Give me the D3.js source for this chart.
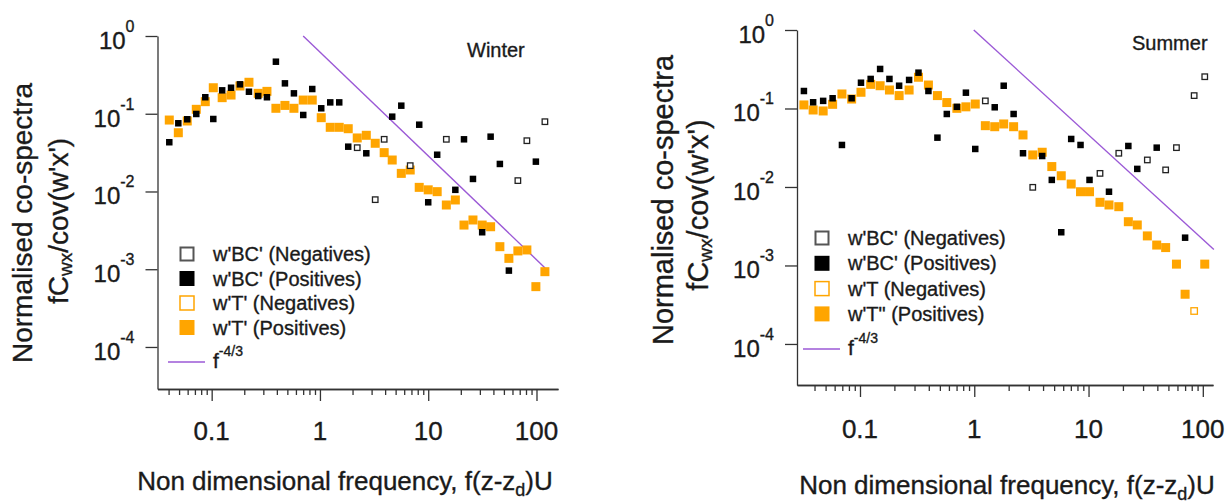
<!DOCTYPE html>
<html>
<head>
<meta charset="utf-8">
<script src="https://cdn.jsdelivr.net/npm/d3@7"></script>
<style>
  html, body { margin: 0; padding: 0; background: #fff; }
  svg { display: block; font-family: "Liberation Sans", Arial, sans-serif; }
  svg text { stroke: #1a1a1a; stroke-width: 0.35px; }
</style>
</head>
<body>
<div id="chart"></div>
<script>
// ---- data ----
const winterFreq = [0.0406, 0.0492, 0.0595, 0.0721, 0.0873, 0.1035, 0.125, 0.151, 0.1825, 0.221,
  0.269, 0.324, 0.392, 0.475, 0.575, 0.701, 0.849, 1.028, 1.245, 1.507,
  1.825, 2.21, 2.68, 3.24, 3.92, 4.65, 5.64, 6.82, 8.26, 10.0,
  12.1, 14.7, 17.8, 21.4, 25.9, 31.5, 37.7, 45.9, 55.6, 67.3,
  81.5, 98.7, 119.6];
const winterTPos = [0.083, 0.057, 0.0807, 0.114, 0.143, 0.216, 0.161, 0.174, 0.2275, 0.254,
  0.183, 0.194, 0.1175, 0.128, 0.1175, 0.150, 0.150, 0.089, 0.0669, 0.0669,
  0.0642, 0.0488, 0.0528, 0.0417, 0.0316, 0.0254, 0.0171, 0.0189, 0.0113, 0.0105,
  0.00995, 0.0067, 0.00778, 0.0037, 0.0043, 0.0037, 0.00352, 0.00195, 0.00138, 0.00172,
  0.00177, 0.000597, 0.00093];
const winterTNeg = [];
const winterBCPos = [0.043, 0.0754, 0.0849, 0.0993, 0.163, 0.0856, 0.200, 0.216, 0.239, 0.192,
  0.169, 0.163, 0.467, 0.246, 0.183, 0.0964, 0.208, 0.1175, 0.140, 0.140,
  0.0377, null, 0.031, null, null, 0.0917, 0.127, null, 0.0723, 0.00726,
  0.0297, null, 0.0105, 0.0469, 0.0145, 0.00299, 0.0507, 0.0226, 0.00096, null,
  null, 0.0242, null];
const winterBCNeg = [null, null, null, null, null, null, null, null, null, null,
  null, null, null, null, null, null, null, null, null, null,
  null, 0.0366, null, 0.00785, 0.0469, null, null, 0.0215, null, null,
  null, 0.0469, null, null, null, null, null, null, null, 0.0138,
  0.045, null, 0.079];
const winterLineF = [0.7, 120];
const winterLineV = [1, 0.00104];

const summerFreq = [0.0323, 0.0389, 0.0476, 0.0576, 0.0695, 0.0845, 0.102, 0.124, 0.150, 0.181,
  0.220, 0.269, 0.325, 0.397, 0.476, 0.575, 0.704, 0.845, 1.02, 1.25,
  1.51, 1.81, 2.21, 2.67, 3.25, 3.93, 4.77, 5.77, 7.05, 8.51,
  10.2, 12.6, 15.1, 18.4, 22.3, 26.7, 32.7, 39.5, 47.3, 58.8,
  70.0, 84, 104];
const summerTPos = [0.111, 0.0957, 0.093, 0.113, 0.153, 0.132, 0.161, 0.203, 0.195, 0.172,
  0.146, 0.172, 0.25, 0.199, 0.146, 0.119, 0.1005, 0.105, 0.114, 0.0604,
  0.0586, 0.0635, 0.0586, 0.046, 0.0256, 0.0277, 0.0182, 0.0139, 0.0109, 0.0087,
  0.0087, 0.00638, 0.0059, 0.00561, 0.00361, 0.00328, 0.00238, 0.00182, 0.00169, 0.00104,
  0.00043, null, 0.00104];
const summerTNeg = [null, null, null, null, null, null, null, null, null, null,
  null, null, null, null, null, null, null, null, null, null,
  null, null, null, null, null, null, null, null, null, null,
  null, null, null, null, null, null, null, null, null, null,
  null, 0.000263, null];
const summerBCPos = [0.167, 0.12, 0.125, 0.135, 0.0343, 0.135, 0.213, 0.238, 0.319, 0.238,
  0.195, 0.231, 0.286, 0.167, 0.0425, 0.0851, 0.105, 0.159, 0.0305, null,
  0.1036, 0.195, 0.0851, 0.0269, null, 0.0248, 0.0123, 0.00265, 0.0409, 0.0343,
  0.0123, null, 0.0087, null, 0.0333, 0.0170, null, 0.0317, null, null,
  0.00226, null, null];
const summerBCNeg = [null, null, null, null, null, null, null, null, null, null,
  null, null, null, null, null, null, null, null, null, 0.125,
  null, null, null, null, 0.0099, null, null, null, null, null,
  null, 0.0149, null, 0.0269, null, null, 0.0221, null, 0.0165, 0.0317,
  null, 0.146, 0.254];
const summerLineF = [0.99, 125];
const summerLineV = [1, 0.0016];

const xMajorTicks = [0.1, 1, 10, 100];
const xTickLabels = ["0.1", "1", "10", "100"];
const yMajorTicks = [1, 0.1, 0.01, 0.001, 0.0001];

const winterLegend = ["w'BC' (Negatives)", "w'BC' (Positives)", "w'T' (Negatives)", "w'T' (Positives)"];
const summerLegend = ["w'BC' (Negatives)", "w'BC' (Positives)", "w'T (Negatives)", "w'T\" (Positives)"];

const ORANGE = "#ffa500";
const PURPLE = "#9b59d6";
const AXIS = "#333";
const INK = "#1a1a1a";

const W = 1226, H = 503;
const svg = d3.select("#chart").append("svg")
  .attr("width", W)
  .attr("height", H);
svg.append("rect").attr("width", W).attr("height", H).attr("fill", "#fff");

function toPoints (freq, vals) {
  const pts = [];
  vals.forEach((v, i) => { if (v != null) pts.push({ f: freq[i], v: v }); });
  return pts;
}

function drawPanel (p) {
  const x = d3.scaleLog().domain(p.xDomain).range(p.xRange);
  const y = d3.scaleLog().domain(p.yDomain).range(p.yRange);
  const g = svg.append("g");
  const axisX = p.xRange[0], axisY = p.yRange[0];

  // y axis
  const ya = g.append("g")
    .attr("transform", `translate(${axisX},0)`)
    .call(d3.axisLeft(y).tickValues(yMajorTicks).tickSize(12).tickSizeOuter(0).tickFormat(""));
  ya.selectAll("path, line").attr("stroke", AXIS).attr("stroke-width", 1.3);

  yMajorTicks.forEach((t) => {
    const txt = g.append("text")
      .attr("x", axisX - 23)
      .attr("y", y(t) + 13)
      .attr("text-anchor", "end")
      .attr("fill", INK);
    txt.append("tspan").attr("font-size", 24).text("10");
    txt.append("tspan").attr("font-size", 16).attr("dy", -17).text(String(Math.round(Math.log10(t))));
  });

  // x axis: minor then major
  const minor = [];
  for (let e = -2; e <= 2; e++) {
    for (let m = 2; m <= 9; m++) {
      const v = m * Math.pow(10, e);
      if (v >= 0.04 && v <= p.xDomain[1]) minor.push(v);
    }
  }
  const xm = g.append("g")
    .attr("transform", `translate(0,${axisY})`)
    .call(d3.axisBottom(x).tickValues(minor).tickSize(6).tickSizeOuter(0).tickFormat(""));
  const xa = g.append("g")
    .attr("transform", `translate(0,${axisY})`)
    .call(d3.axisBottom(x).tickValues(xMajorTicks).tickSize(12).tickSizeOuter(0).tickFormat(""));
  xm.selectAll("path, line").attr("stroke", AXIS).attr("stroke-width", 1.3);
  xa.selectAll("path, line").attr("stroke", AXIS).attr("stroke-width", 1.3);

  g.selectAll(".xlab").data(xMajorTicks).join("text")
    .attr("x", (d) => x(d))
    .attr("y", p.xLabY)
    .attr("text-anchor", "middle")
    .attr("font-size", 26)
    .attr("fill", INK)
    .text((d, i) => xTickLabels[i]);

  // axis titles
  const xt = g.append("text")
    .attr("x", p.xTitle[0]).attr("y", p.xTitle[1])
    .attr("text-anchor", "middle").attr("font-size", 26).attr("fill", INK);
  xt.append("tspan").text("Non dimensional frequency, f(z-z");
  xt.append("tspan").attr("font-size", 18).attr("dy", 6).text("d");
  xt.append("tspan").attr("dy", -6).text(")U");

  g.append("text")
    .attr("transform", `translate(${p.yTitle1[0]},${p.yTitle1[1]}) rotate(-90)`)
    .attr("text-anchor", "middle").attr("dominant-baseline", "central")
    .attr("font-size", p.yTitleSize).attr("fill", INK)
    .text("Normalised co-spectra");
  const yt2 = g.append("text")
    .attr("transform", `translate(${p.yTitle2[0]},${p.yTitle2[1]}) rotate(-90)`)
    .attr("text-anchor", "middle").attr("dominant-baseline", "central")
    .attr("font-size", p.yTitleSize).attr("fill", INK);
  yt2.append("tspan").text("fC");
  yt2.append("tspan").attr("font-size", 19).attr("dy", 7).text("wx");
  yt2.append("tspan").attr("dy", -7).text("/cov(w'x')");

  // panel label
  g.append("text")
    .attr("x", p.label[0]).attr("y", p.label[1])
    .attr("font-size", 20).attr("fill", INK)
    .text(p.name);

  // f^-4/3 line
  const line = d3.line().x((d) => x(d.f)).y((d) => y(d.v));
  g.append("path")
    .attr("d", line(toPoints(p.lineF, p.lineV)))
    .attr("fill", "none")
    .attr("stroke", PURPLE)
    .attr("stroke-width", 1.4);

  // markers
  const sq = (sel, size) => sel
    .attr("x", (d) => x(d.f) - size / 2)
    .attr("y", (d) => y(d.v) - size / 2)
    .attr("width", size).attr("height", size);

  g.append("g").selectAll("rect").data(toPoints(p.freq, p.tPos)).join("rect")
    .call(sq, 9).attr("fill", ORANGE);
  g.append("g").selectAll("rect").data(toPoints(p.freq, p.tNeg)).join("rect")
    .call(sq, 6.5).attr("fill", "#fff").attr("stroke", ORANGE).attr("stroke-width", 1.3);
  g.append("g").selectAll("rect").data(toPoints(p.freq, p.bcPos)).join("rect")
    .call(sq, 6.5).attr("fill", "#000");
  g.append("g").selectAll("rect").data(toPoints(p.freq, p.bcNeg)).join("rect")
    .call(sq, 5.5).attr("fill", "#fff").attr("stroke", "#222").attr("stroke-width", 1.3);

  // legend
  const lg = g.append("g");
  const styles = [
    { fill: "#fff", stroke: "#555", sw: 2, size: 13 },
    { fill: "#000", stroke: "none", sw: 0, size: 15 },
    { fill: "#fff", stroke: ORANGE, sw: 1.5, size: 14 },
    { fill: ORANGE, stroke: "none", sw: 0, size: 15 }
  ];
  p.legend.forEach((lab, i) => {
    const cy = p.legY[0] + i * p.legStep;
    const s = styles[i];
    lg.append("rect")
      .attr("x", p.legX - s.size / 2).attr("y", cy - s.size / 2)
      .attr("width", s.size).attr("height", s.size)
      .attr("fill", s.fill).attr("stroke", s.stroke).attr("stroke-width", s.sw);
    lg.append("text")
      .attr("x", p.legX + 26).attr("y", cy + 7)
      .attr("font-size", 20).attr("fill", INK)
      .text(lab);
  });
  lg.append("line")
    .attr("x1", p.legX - 19).attr("x2", p.legX + 18)
    .attr("y1", p.legY[1]).attr("y2", p.legY[1])
    .attr("stroke", PURPLE).attr("stroke-width", 1.4);
  const ft = lg.append("text")
    .attr("x", p.legX + 26).attr("y", p.legY[1] + 6)
    .attr("font-size", 21).attr("fill", INK);
  ft.append("tspan").text("f");
  ft.append("tspan").attr("font-size", 14).attr("dy", -12).text("-4/3");
}

drawPanel({
  name: "Winter",
  freq: winterFreq, tPos: winterTPos, tNeg: winterTNeg, bcPos: winterBCPos, bcNeg: winterBCNeg,
  lineF: winterLineF, lineV: winterLineV,
  xDomain: [0.0316, 158], xRange: [157.5, 558],
  yDomain: [2.88e-5, 1], yRange: [389, 36],
  xLabY: 440, xTitle: [345, 490],
  yTitle1: [22, 223], yTitle2: [58, 221], yTitleSize: 28,
  label: [467, 57],
  legend: winterLegend, legX: 187, legY: [254, 362], legStep: 24.5
});

drawPanel({
  name: "Summer",
  freq: summerFreq, tPos: summerTPos, tNeg: summerTNeg, bcPos: summerBCPos, bcNeg: summerBCNeg,
  lineF: summerLineF, lineV: summerLineV,
  xDomain: [0.0281, 122.8], xRange: [797, 1213],
  yDomain: [3.0e-5, 1], yRange: [385, 30],
  xLabY: 438, xTitle: [1007, 494],
  yTitle1: [663, 200], yTitle2: [698, 205], yTitleSize: 29,
  label: [1132, 50],
  legend: summerLegend, legX: 822, legY: [238, 349], legStep: 25.3
});
</script>
</body>
</html>
